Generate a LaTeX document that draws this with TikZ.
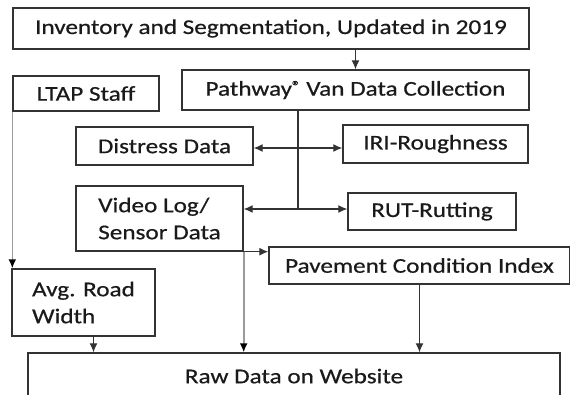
\documentclass[tikz,border=0pt]{standalone}
\usepackage{fontspec}
\setmainfont{Carlito}[FakeStretch=1.2,FakeBold=0.6]
\usetikzlibrary{arrows.meta}
\definecolor{boxline}{HTML}{333333}
\definecolor{txt}{HTML}{1A1A1A}
\definecolor{greyline}{HTML}{9A9A9A}
\newcommand{\regmark}{{\fontsize{14}{14}\selectfont\raisebox{5pt}{®}}}
\tikzset{
  box/.style={draw=boxline, line width=1.4pt, rectangle, inner sep=0pt,
    text=txt, font=\fontsize{21}{27}\selectfont},
  arr/.style={draw=boxline, line width=1.2pt, -{Latex[length=9pt,width=8pt]}},
  arrboth/.style={draw=boxline, line width=1.2pt, {Latex[length=9pt,width=8pt]}-{Latex[length=9pt,width=8pt]}},
  greyarr/.style={draw=greyline, line width=1.6pt, -{Latex[length=9pt,width=8pt,color=black]}}
}
\begin{document}
\begin{tikzpicture}[x=1pt,y=-1pt]
        \useasboundingbox (0,0) rectangle (570,395);
        % boxes
        \node[box, minimum width=516pt, minimum height=41pt] (inv) at (271,28.5) {Inventory and Segmentation, Updated in 2019};
        \node[box, minimum width=347pt, minimum height=40pt] (path) at (355.5,90) {Pathway\regmark{} Van Data Collection};
        \node[box, minimum width=146pt, minimum height=35pt] (ltap) at (86,93.5) {LTAP Staff};
        \node[box, minimum width=177pt, minimum height=38pt] (distress) at (164.5,146) {Distress Data};
        \node[box, minimum width=185pt, minimum height=38pt] (iri) at (435.5,144) {IRI-Roughness};
        \node[box, minimum width=167pt, minimum height=65pt, align=left] (video) at (159.5,218.5) {Video Log/\\Sensor Data};
        \node[box, minimum width=168pt, minimum height=37pt] (rut) at (432,211.5) {RUT-Rutting};
        \node[box, minimum width=301pt, minimum height=37pt] (pci) at (419.5,265.5) {Pavement Condition Index};
        \node[box, minimum width=143pt, minimum height=67pt, align=left] (avg) at (83.5,302.5) {Avg. Road\\Width};
        \node[box, minimum width=532pt, minimum height=46pt] (raw) at (294,376) {Raw Data on Website};
        % junctions on the trunk
        \coordinate (j1) at (298,148);
        \coordinate (j2) at (298,209);
        \coordinate (avgout) at ([xshift=10pt]avg.south);
        % connectors
        \draw[arr] (path.north |- inv.south) -- (path.north);
        \draw[draw=boxline, line width=1.2pt] (j1 |- path.south) -- (j2);
        \draw[arrboth] (distress.east |- j1) -- (iri.west |- j1);
        \draw[arrboth] (video.east |- j2) -- (rut.west |- j2);
        \draw[arr] (video.south west) -- (pci.west |- video.south);
        \draw[greyarr] (ltap.south west) -- (ltap.south west |- avg.north);
        \draw[greyarr] (video.south east) -- (video.south east |- raw.north);
        \draw[arr] (pci.south) -- (pci.south |- raw.north);
        \draw[arr] (avgout) -- (avgout |- raw.north);
\end{tikzpicture}
\end{document}
